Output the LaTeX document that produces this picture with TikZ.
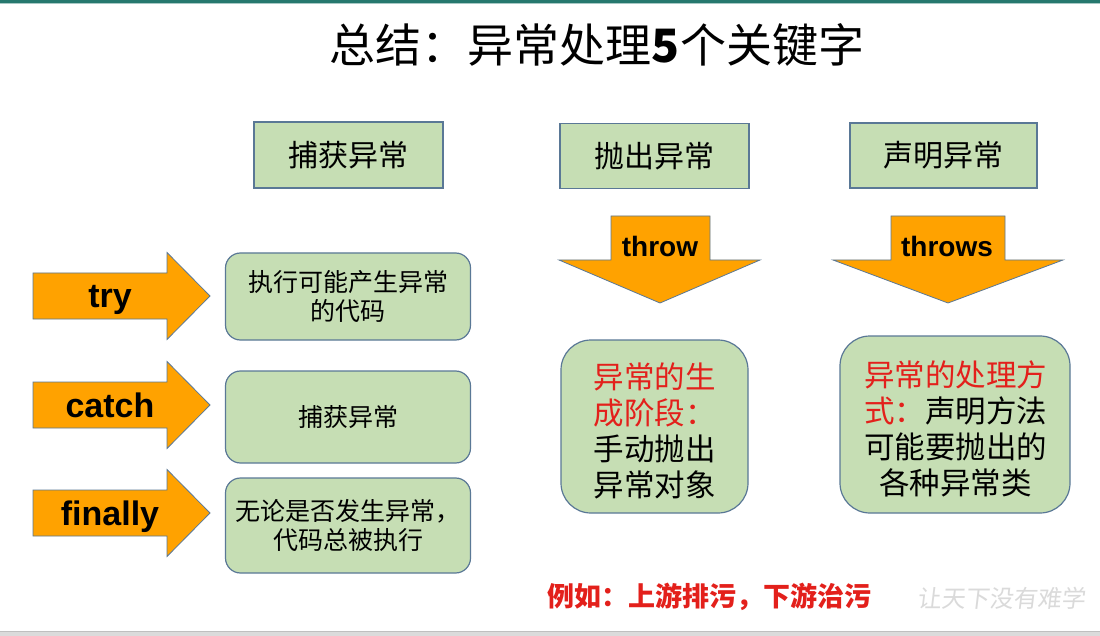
\documentclass[tikz,border=0pt]{standalone}
\usepackage{fontspec}
\setmainfont{Liberation Sans}
\newfontfamily\cjk{Noto Sans CJK SC}
\definecolor{boxg}{HTML}{C6DEB4}
\definecolor{bordc}{HTML}{5A7896}
\definecolor{arrowo}{HTML}{FFA200}
\definecolor{redt}{HTML}{E3201B}
\definecolor{teal}{HTML}{26786E}
\definecolor{wmk}{HTML}{DADADA}
\begin{document}
\begin{tikzpicture}[x=1pt,y=-1pt,
  hdr/.style={draw=bordc, fill=boxg, line width=1.2pt, inner sep=0pt,
    font=\cjk\fontsize{30}{36}\selectfont},
  lbox/.style={draw=bordc, fill=boxg, line width=1.2pt, rounded corners=15pt,
    minimum width=245pt, inner sep=0pt, align=center,
    font=\cjk\fontsize{25}{29}\selectfont},
  rbox/.style={draw=bordc, fill=boxg, line width=1.2pt, rounded corners=30pt,
    inner sep=0pt, align=left, font=\cjk\fontsize{30.5}{36}\selectfont},
  arr/.style={draw=bordc, fill=arrowo, line width=0.8pt, line join=miter},
  kw/.style={font=\bfseries\fontsize{34}{40}\selectfont, anchor=base, inner sep=0pt},
  kwd/.style={font=\bfseries\fontsize{28}{34}\selectfont, anchor=base, inner sep=0pt}
]
\useasboundingbox (0,0) rectangle (1100,636);
\fill[white] (0,0) rectangle (1100,636);
% top and bottom bars
\fill[teal] (0,0) rectangle (1100,3);
\fill[teal!40] (0,3) rectangle (1100,4);
\fill[black!14] (0,631) rectangle (1100,636);
\fill[black!25] (0,630.5) rectangle (1100,631.5);

% title
\node[font=\cjk\fontsize{46}{50}\selectfont, inner sep=0pt] (title) at (597,45) {总结：异常处理{\bfseries 5}个关键字};

% header boxes
\node[hdr, minimum width=189pt, minimum height=66pt] (h1) at (348.5,155) {捕获异常};
\node[hdr, minimum width=189pt, minimum height=65pt] (h2) at (654.5,156) {抛出异常};
\node[hdr, minimum width=187pt, minimum height=65pt] (h3) at (943.5,155.5) {声明异常};

% right-pointing arrows
\foreach \cy/\nm in {296/atry, 405/acatch, 513/afinally}{
  \filldraw[arr] (33,\cy-23) -- (167,\cy-23) -- (167,\cy-43.5) -- (210,\cy)
    -- (167,\cy+43.5) -- (167,\cy+23) -- (33,\cy+23) -- cycle;
}
\node[kw] (ktry) at (110,307) {try};
\node[kw] (kcatch) at (110,417) {catch};
\node[kw] (kfinally) at (110,525) {finally};

% down arrows
\filldraw[arr] (611,216) -- (710,216) -- (710,260) -- (760,260) -- (660,303)
  -- (559,260) -- (611,260) -- cycle;
\filldraw[arr] (891,216) -- (1005,216) -- (1005,260) -- (1063,260) -- (948,303)
  -- (833,260) -- (891,260) -- cycle;
\node[kwd] (kthrow) at (660,257) {throw};
\node[kwd] (kthrows) at (947,257) {throws};

% left boxes
\node[lbox, minimum height=87pt] (b1) at (348,296.5) {执行可能产生异常\\的代码};
\node[lbox, minimum height=92pt] (b2) at (348,417) {捕获异常};
\node[lbox, minimum height=95pt] (b3) at (348,525.5) {无论是否发生异常，\\代码总被执行};

% right boxes
\node[rbox, minimum width=187pt, minimum height=173pt] (b4) at (654.5,426.5) {};
\node[font=\cjk\fontsize{30.5}{36}\selectfont, align=left, inner sep=0pt] (t4) at (654.5,431)
  {\textcolor{redt}{异常的生}\\\textcolor{redt}{成阶段：}\\手动抛出\\异常对象};
\node[rbox, minimum width=230pt, minimum height=177pt] (b5) at (955,424.5) {};
\node[font=\cjk\fontsize{30.5}{36}\selectfont, align=center, inner sep=0pt] (t5) at (955.5,429)
  {\textcolor{redt}{异常的处理方}\\\textcolor{redt}{式：}声明方法\\可能要抛出的\\各种异常类};

% bottom note
\node[font=\cjk\bfseries\fontsize{27}{30}\selectfont, text=redt, inner sep=0pt, anchor=west] (note) at (547,597) {例如：上游排污，下游治污};
\node[font=\cjk\fontsize{24}{28}\selectfont, text=wmk, inner sep=0pt, anchor=west, xslant=0.12] (wm) at (918,598) {让天下没有难学};
\end{tikzpicture}
\end{document}
